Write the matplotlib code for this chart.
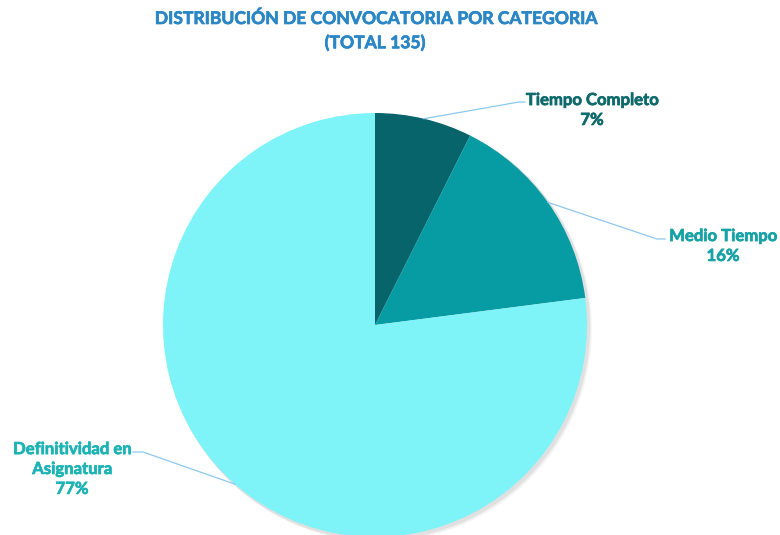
import numpy as np
import matplotlib.pyplot as plt
import matplotlib.patheffects as pe

categorias = ["Tiempo Completo", "Medio Tiempo", "Definitividad en\nAsignatura"]
convocatorias = [10, 21, 104]
colores = ["#06646A", "#079CA3", "#7EF3F8"]
colores_texto = ["#0F6A6C", "#17A2A6", "#1DB3B4"]
titulo = "DISTRIBUCIÓN DE CONVOCATORIA POR CATEGORIA\n(TOTAL 135)"

plt.rcParams['font.family'] = ['Lato', 'DejaVu Sans']

fig = plt.figure(figsize=(7.8, 5.35), dpi=100)
ax = fig.add_axes([0, 0, 1, 1])

H = 535
cx, cy, r = 375, H - 325, 212
total = sum(convocatorias)

# sombra suave
for k, a in enumerate([0.05, 0.04, 0.03]):
    ax.add_patch(plt.Circle((cx + 2 + k, cy - 2 - k), r + 1, color="#000000", alpha=a, lw=0))

wedges, _ = ax.pie(convocatorias, colors=colores, startangle=90, counterclock=False,
                   center=(cx, cy), radius=r, wedgeprops=dict(linewidth=0))

# etiquetas con lineas guia
pos_texto = [(592, H - 110), (723, H - 246), (72, H - 469)]
codos = [(519, H - 102), (657, H - 239), (143, H - 452)]
finales = [(525, H - 102), (665, H - 239), (133, H - 452)]
for w, cat, n, col, (tx, ty), (bx, by), (ex, ey) in zip(wedges, categorias, convocatorias,
                                                       colores_texto, pos_texto, codos, finales):
    ang = np.deg2rad((w.theta1 + w.theta2) / 2)
    px, py = cx + r * np.cos(ang), cy + r * np.sin(ang)
    ax.plot([px, bx, ex], [py, by, ey], color="#8CC8F0", lw=0.9, zorder=5)
    pct = "{:.0f}%".format(100 * n / total)
    ax.text(tx, ty, cat + "\n" + pct, ha="center", va="center", fontsize=12,
            fontweight="bold", color=col, linespacing=1.3,
            path_effects=[pe.withStroke(linewidth=0.5, foreground=col)])

ax.text(375, H - 11, titulo, ha="center", va="top", fontsize=12.6, fontweight="bold",
        color="#2A86C4", linespacing=1.6,
        path_effects=[pe.withStroke(linewidth=0.5, foreground="#2A86C4")])

ax.set_xlim(0, 780)
ax.set_ylim(0, H)
ax.set_aspect("auto")
ax.axis("off")

fig.savefig("out.png", dpi=100, facecolor="white")
